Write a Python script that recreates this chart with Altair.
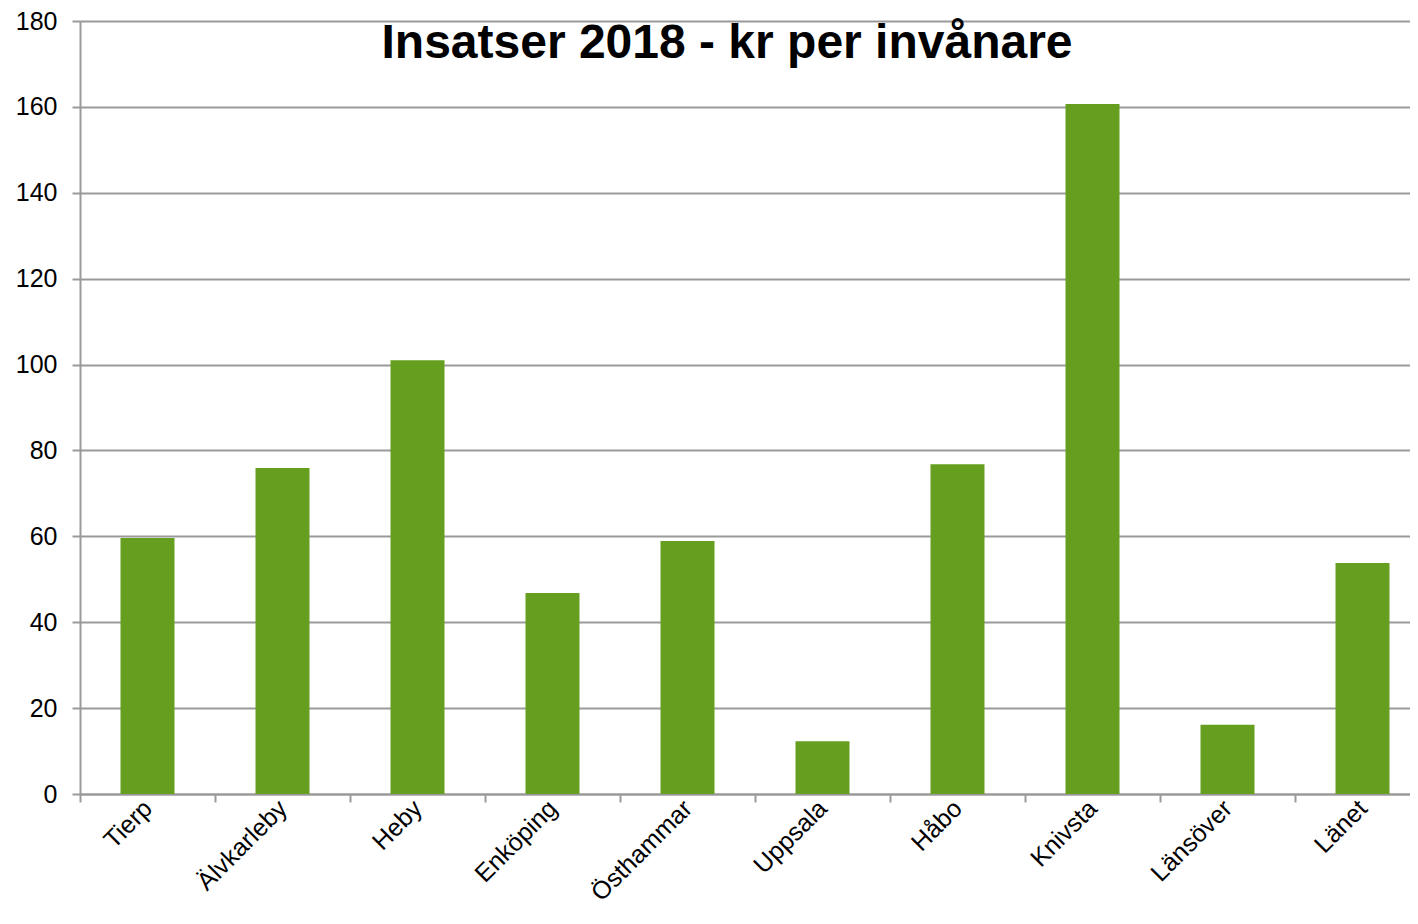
import altair as alt
import pandas as pd

kommuner = ["Tierp", "Älvkarleby", "Heby", "Enköping", "Östhammar",
            "Uppsala", "Håbo", "Knivsta", "Länsöver", "Länet"]
kr_per_invanare = [59.6, 75.9, 101.0, 46.8, 58.9, 12.3, 76.8, 160.7, 16.1, 53.8]
y_ticks = [0, 20, 40, 60, 80, 100, 120, 140, 160, 180]

df = pd.DataFrame({"kommun": kommuner, "kr": kr_per_invanare})

FONT = "Liberation Sans"
GRID = "#9a9a9a"

chart = alt.Chart(df).mark_bar(color="#669F1F", width=alt.RelativeBandSize(0.4)).encode(
    x=alt.X(
        "kommun:N", sort=kommuner, title=None,
        scale=alt.Scale(paddingInner=0, paddingOuter=0),
        axis=alt.Axis(
            labelAngle=-45, labelFontSize=25, labelFont=FONT, labelColor="black",
            labelAlign="right", labelBaseline="middle",
            tickBand="extent", tickSize=8, tickColor=GRID, tickWidth=2,
            domainColor=GRID, domainWidth=2, grid=False, labelPadding=2,
        ),
    ),
    y=alt.Y(
        "kr:Q", title=None,
        scale=alt.Scale(domain=[0, 180], nice=False),
        axis=alt.Axis(
            values=y_ticks, labelFontSize=25, labelFont=FONT, labelColor="black",
            grid=True, gridColor=GRID, gridWidth=2, tickSize=8, tickColor=GRID,
            tickWidth=2, domainColor=GRID, domainWidth=2, labelPadding=15,
        ),
    ),
).properties(
    width=1350, height=773,
    autosize=alt.AutoSizeParams(type="none"),
    padding={"left": 72, "top": 13, "right": -20, "bottom": 116},
    title=alt.TitleParams(
        "Insatser 2018 - kr per invånare", fontSize=48, font=FONT,
        fontWeight="bold", color="black", anchor="middle", baseline="alphabetic",
        dx=-28, dy=53, offset=-44,
    ),
).configure_view(stroke=None)

chart.save("out.html", embed_options={"renderer": "svg", "actions": False})
